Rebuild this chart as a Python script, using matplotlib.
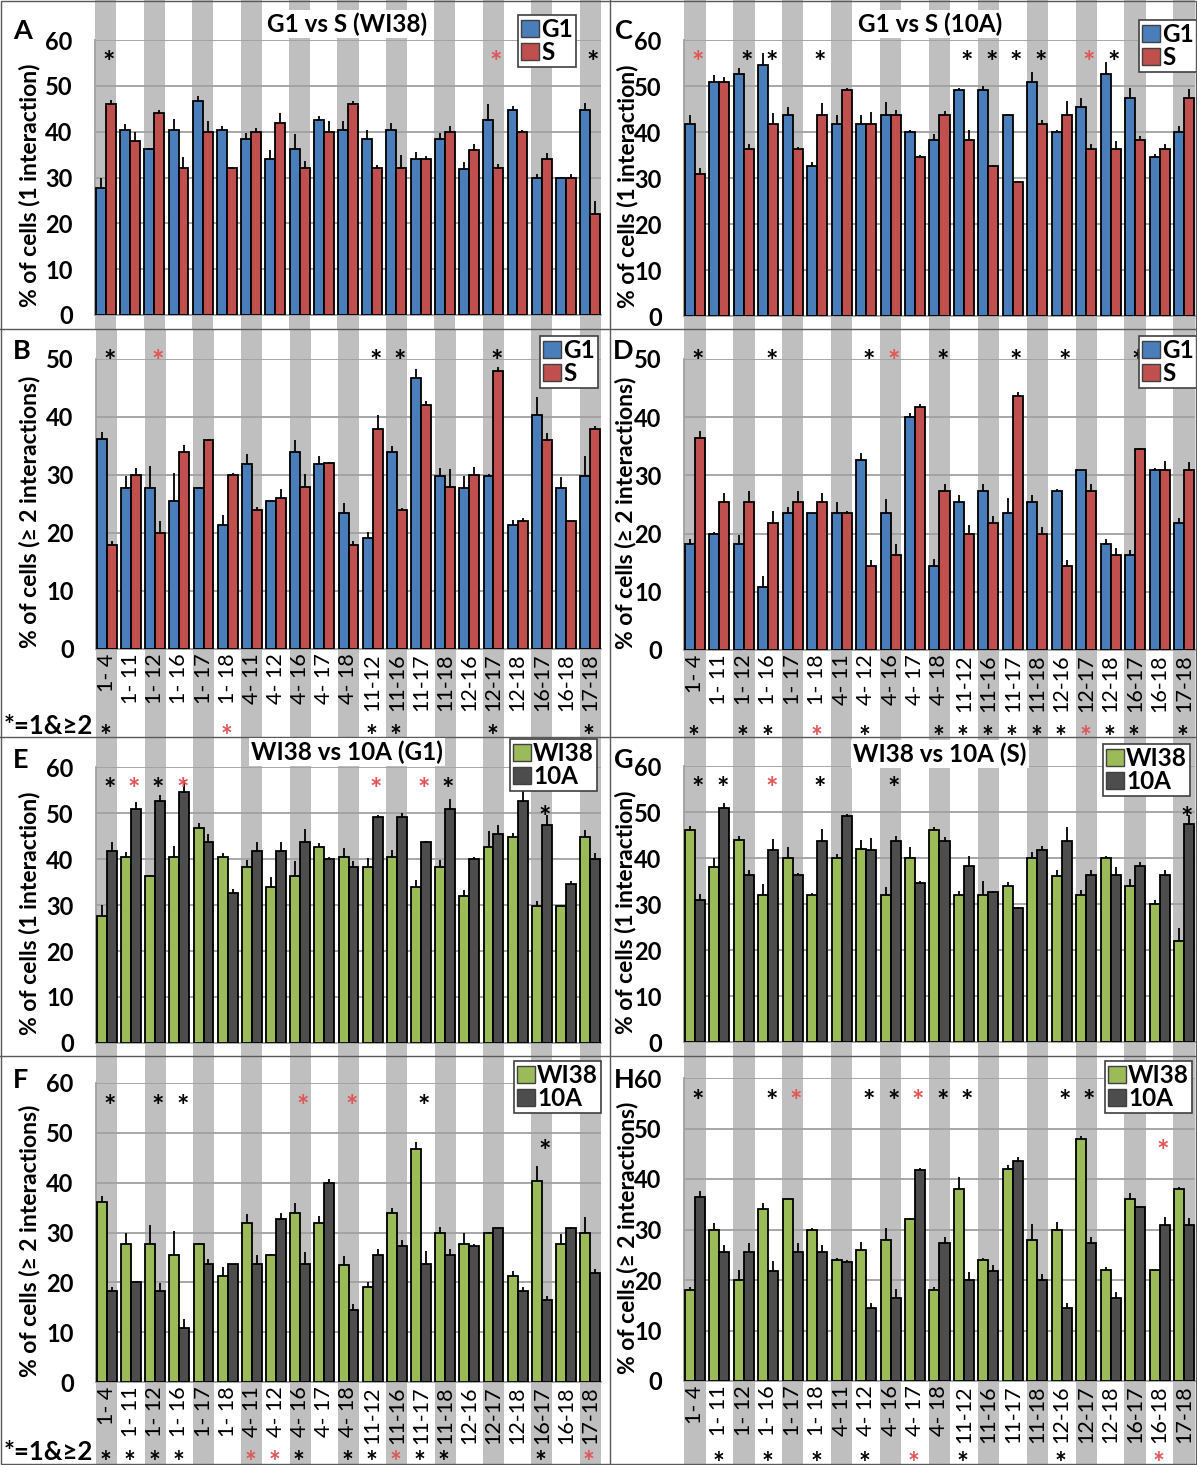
import matplotlib
matplotlib.use('Agg')
import matplotlib.pyplot as plt
from matplotlib.patches import Rectangle, Patch
from matplotlib.lines import Line2D
from matplotlib.transforms import blended_transform_factory, offset_copy
import numpy as np

FONT = ['Lato', 'DejaVu Sans']
plt.rcParams['font.family'] = FONT

W, H = 1197, 1465

cats = ['1- 4', '1- 11', '1- 12', '1- 16', '1- 17', '1- 18', '4- 11', '4- 12', '4- 16',
        '4- 17', '4- 18', '11-12', '11-16', '11-17', '11-18', '12-16', '12-17', '12-18',
        '16-17', '16-18', '17-18']

# % of cells with 1 interaction
wi38_g1_1 = [27.7, 40.4, 36.2, 40.4, 46.8, 40.4, 38.3, 34.0, 36.2, 42.6, 40.4, 38.3, 40.4, 34.0, 38.3, 31.9, 42.6, 44.7, 29.8, 29.8, 44.7]
wi38_g1_1_err = [2.2, 1.2, 0.3, 2.4, 1.0, 0.8, 1.5, 2.0, 3.4, 0.8, 2.0, 2.0, 1.5, 1.5, 1.5, 1.4, 3.5, 1.0, 1.0, 0.3, 1.5]
wi38_s_1 = [46, 38, 44, 32, 40, 32, 40, 42, 32, 40, 46, 32, 32, 34, 40, 36, 32, 40, 34, 30, 22]
wi38_s_1_err = [1.0, 2.0, 0.8, 2.4, 2.4, 0.4, 0.8, 2.0, 1.6, 2.4, 0.8, 0.8, 3.0, 0.8, 1.2, 1.4, 1.0, 0.4, 1.4, 0.8, 2.8]
ten_g1_1 = [41.8, 50.9, 52.7, 54.5, 43.6, 32.7, 41.8, 41.8, 43.6, 40.0, 38.2, 49.1, 49.1, 43.6, 50.9, 40.0, 45.5, 52.7, 47.3, 34.5, 40.0]
ten_g1_1_err = [2.0, 1.6, 1.3, 2.6, 1.8, 0.8, 1.8, 1.8, 3.0, 0.4, 1.4, 0.4, 0.8, 0.3, 2.2, 0.4, 2.0, 2.6, 2.2, 0.8, 1.2]
ten_s_1 = [30.9, 50.9, 36.4, 41.8, 36.4, 43.6, 49.1, 41.8, 43.6, 34.5, 43.6, 38.2, 32.7, 29.1, 41.8, 43.6, 36.4, 36.4, 38.2, 36.4, 47.3]
ten_s_1_err = [1.2, 1.0, 1.0, 2.4, 0.4, 2.6, 0.4, 2.6, 1.2, 0.6, 1.0, 2.2, 0.1, 0.3, 0.8, 3.2, 1.0, 1.6, 1.0, 1.0, 2.0]

# % of cells with >= 2 interactions
wi38_g1_2 = [36.2, 27.7, 27.7, 25.5, 27.7, 21.3, 31.9, 25.5, 34.0, 31.9, 23.4, 19.1, 34.0, 46.8, 29.8, 27.7, 29.8, 21.3, 40.4, 27.7, 29.8]
wi38_g1_2_err = [1.2, 2.2, 3.8, 4.8, 0.2, 1.8, 1.8, 0.2, 2.0, 1.4, 1.8, 1.0, 1.0, 1.4, 1.4, 2.2, 0.4, 1.0, 3.0, 2.0, 3.4]
wi38_s_2 = [18, 30, 20, 34, 36, 30, 24, 26, 28, 32, 18, 38, 24, 42, 28, 30, 48, 22, 36, 22, 38]
wi38_s_2_err = [0.6, 1.2, 2.0, 1.2, 0.2, 0.3, 0.4, 1.5, 2.2, 0.2, 0.6, 2.4, 0.3, 0.8, 3.0, 1.4, 0.6, 0.5, 1.2, 0.0, 0.4]
ten_g1_2 = [18.2, 20.0, 18.2, 10.9, 23.6, 23.6, 23.6, 32.7, 23.6, 40.0, 14.5, 25.5, 27.3, 23.6, 25.5, 27.3, 30.9, 18.2, 16.4, 30.9, 21.8]
ten_g1_2_err = [0.8, 0.3, 1.6, 1.8, 1.0, 0.0, 1.8, 1.2, 2.4, 0.8, 1.2, 1.2, 1.2, 2.6, 1.2, 0.4, 0.0, 0.8, 0.8, 0.3, 0.8]
ten_s_2 = [36.4, 25.5, 25.5, 21.8, 25.5, 25.5, 23.6, 14.5, 16.4, 41.8, 27.3, 20.0, 21.8, 43.6, 20.0, 14.5, 27.3, 16.4, 34.5, 30.9, 30.9]
ten_s_2_err = [1.2, 1.4, 1.8, 2.0, 1.8, 1.4, 0.3, 1.0, 1.8, 0.4, 1.2, 1.5, 1.2, 0.8, 1.2, 1.0, 1.2, 1.2, 0.2, 1.6, 1.4]

# significance stars: (category index, colour key)
stars_top = {
    'A': [(0, 'k'), (16, 'r'), (20, 'k')],
    'C': [(0, 'r'), (2, 'k'), (3, 'k'), (5, 'k'), (11, 'k'), (12, 'k'), (13, 'k'), (14, 'k'), (16, 'r'), (17, 'k')],
    'B': [(0, 'k'), (2, 'r'), (11, 'k'), (12, 'k'), (16, 'k')],
    'D': [(0, 'k'), (3, 'k'), (7, 'k'), (8, 'r'), (10, 'k'), (13, 'k'), (15, 'k'), (18, 'k')],
    'E': [(0, 'k'), (1, 'r'), (2, 'k'), (3, 'r'), (11, 'r'), (13, 'r'), (14, 'k'), (18, 'k')],
    'G': [(0, 'k'), (1, 'k'), (3, 'r'), (5, 'k'), (8, 'k'), (20, 'k')],
    'F': [(0, 'k'), (2, 'k'), (3, 'k'), (8, 'r'), (10, 'r'), (13, 'k'), (18, 'k')],
    'H': [(0, 'k'), (3, 'k'), (4, 'r'), (7, 'k'), (8, 'k'), (9, 'r'), (10, 'k'), (11, 'k'), (15, 'k'), (16, 'k'), (19, 'r')],
}
stars_bottom = {
    'B': [(0, 'k'), (5, 'r'), (11, 'k'), (12, 'k'), (16, 'k'), (20, 'k')],
    'D': [(0, 'k'), (2, 'k'), (3, 'k'), (5, 'r'), (7, 'k'), (10, 'k'), (11, 'k'), (12, 'k'), (13, 'k'),
          (14, 'k'), (15, 'k'), (16, 'r'), (17, 'k'), (18, 'k'), (20, 'k')],
    'F': [(0, 'k'), (1, 'k'), (2, 'k'), (3, 'k'), (6, 'r'), (7, 'r'), (8, 'k'), (10, 'k'), (11, 'k'),
          (12, 'r'), (13, 'k'), (14, 'k'), (18, 'k'), (20, 'r')],
    'H': [(1, 'k'), (3, 'k'), (5, 'k'), (7, 'k'), (9, 'r'), (11, 'k'), (15, 'k'), (19, 'r')],
}
# stars drawn lower, just above a bar
low_star_y = {('E', 18): 51.4, ('G', 20): 51.0, ('F', 18): 48.5, ('H', 19): 47.6}

BLUE, RED, GREEN, DARK = '#4A7EBB', '#C0504D', '#9BBB59', '#4D4D4D'
STAR_C = {'k': 'black', 'r': '#E05555'}

# letter, series, colours, names, title, ylabel, geometry(px): left, right, y0, ytop, topval, panel top, panel bottom
panels = [
    ('A', (wi38_g1_1, wi38_g1_1_err, wi38_s_1, wi38_s_1_err), (BLUE, RED), ('G1', 'S'), 'G1 vs S (WI38)',
     '% of cells (1 interaction)', (95, 601, 315, 40, 60, 0, 329)),
    ('C', (ten_g1_1, ten_g1_1_err, ten_s_1, ten_s_1_err), (BLUE, RED), ('G1', 'S'), 'G1 vs S (10A)',
     '% of cells (1 interaction)', (684, 1195, 316, 40, 60, 0, 329)),
    ('B', (wi38_g1_2, wi38_g1_2_err, wi38_s_2, wi38_s_2_err), (BLUE, RED), ('G1', 'S'), None,
     '% of cells (≥ 2 interactions)', (96, 601, 649, 359, 50, 330, 737)),
    ('D', (ten_g1_2, ten_g1_2_err, ten_s_2, ten_s_2_err), (BLUE, RED), ('G1', 'S'), None,
     '% of cells (≥ 2 interactions)', (684, 1195, 650, 359, 50, 330, 737)),
    ('E', (wi38_g1_1, wi38_g1_1_err, ten_g1_1, ten_g1_1_err), (GREEN, DARK), ('WI38', '10A'), 'WI38 vs 10A (G1)',
     '% of cells (1 interaction)', (96, 601, 1043, 767, 60, 738, 1056)),
    ('G', (wi38_s_1, wi38_s_1_err, ten_s_1, ten_s_1_err), (GREEN, DARK), ('WI38', '10A'), 'WI38 vs 10A (S)',
     '% of cells (1 interaction)', (684, 1195, 1042, 766, 60, 738, 1056)),
    ('F', (wi38_g1_2, wi38_g1_2_err, ten_g1_2, ten_g1_2_err), (GREEN, DARK), ('WI38', '10A'), None,
     '% of cells (≥ 2 interactions)', (96, 601, 1382, 1083, 60, 1057, 1465)),
    ('H', (wi38_s_2, wi38_s_2_err, ten_s_2, ten_s_2_err), (GREEN, DARK), ('WI38', '10A'), None,
     '% of cells (≥ 2 interactions)', (684, 1195, 1381, 1078, 60, 1057, 1465)),
]

# where to put titles, legends, letters, ylabels (px)
title_pos = {'A': (347, 24), 'C': (930, 24), 'E': (347, 752), 'G': (940, 754)}
legend_box = {'A': (576, 15), 'C': (1197, 20), 'B': (598, 336), 'D': (1197, 336),
              'E': (597, 739), 'G': (1190, 744), 'F': (601, 1061), 'H': (1192, 1061)}
letter_pos = {'A': (13, 31), 'C': (615, 31), 'B': (13, 351), 'D': (613, 351),
              'E': (13, 760), 'G': (614, 760), 'F': (13, 1080), 'H': (614, 1080)}
ylab_x = {'A': 30, 'B': 30, 'E': 30, 'F': 30, 'C': 627, 'D': 625, 'G': 625, 'H': 627}
bottom_star_y = {'B': 726, 'D': 727, 'F': 1452, 'H': 1453}

STAR_FS = 21
# asterisk glyph sits high above the baseline: shift baseline down to centre it
STAR_DROP = STAR_FS * 100 / 72 * 0.66

fig = plt.figure(figsize=(W / 100, H / 100), dpi=100)
fig.patch.set_facecolor('white')

x = np.arange(len(cats))
bw = 0.41

for letter, (a, ae, b, be), cols, names, title, ylab, geo in panels:
    left, right, y0, ytop, topval, ptop, pbot = geo
    ax = fig.add_axes([left / W, 1 - y0 / H, (right - left) / W, (y0 - ytop) / H])
    ax.patch.set_visible(False)
    ax.set_xlim(-0.45, len(cats) - 0.55)
    ax.set_ylim(0, topval)

    # grey column stripes across the whole panel
    tr = blended_transform_factory(ax.transData, fig.transFigure)
    for i in range(0, len(cats), 2):
        ax.add_patch(Rectangle((i - 0.435, 1 - pbot / H), 0.87, (pbot - ptop) / H, transform=tr,
                               facecolor='#BFBFBF', edgecolor='none', zorder=0.1, clip_on=False))

    ax.set_yticks(np.arange(0, topval + 1, 10))
    ax.yaxis.grid(True, color='#A0A0A0', lw=1.3)
    ax.set_axisbelow(True)
    for s in ['top', 'right']:
        ax.spines[s].set_visible(False)
    ax.spines['left'].set_color('#A0A0A0')
    ax.spines['bottom'].set_color('#A0A0A0')
    ax.spines['left'].set_linewidth(1.3)
    ax.spines['bottom'].set_linewidth(1.3)
    ax.tick_params(axis='both', length=0)
    ax.tick_params(axis='y', pad=16)
    for t in ax.get_yticklabels():
        t.set_fontweight('bold')
        t.set_fontsize(17)

    ax.bar(x - bw / 2, a, bw, color=cols[0], edgecolor='black', lw=1.3, zorder=3)
    ax.bar(x + bw / 2, b, bw, color=cols[1], edgecolor='black', lw=1.3, zorder=3)
    ax.errorbar(x - bw / 2, a, yerr=[np.zeros(len(a)), ae], fmt='none', ecolor='black', elinewidth=1.3,
                capsize=0, zorder=4)
    ax.errorbar(x + bw / 2, b, yerr=[np.zeros(len(b)), be], fmt='none', ecolor='black', elinewidth=1.3,
                capsize=0, zorder=4)

    if letter in ('B', 'D', 'F', 'H'):
        ax.set_xticks(x)
        ax.set_xticklabels(cats, rotation=90, fontsize=15.5, va='top', ha='center')
        ax.tick_params(axis='x', pad=3)
    else:
        ax.set_xticks([])

    star_tr = offset_copy(ax.transData, fig=fig, y=-STAR_DROP, units='dots')
    star_y0 = 51.5 if topval == 50 else 57.4
    for i, c in stars_top[letter]:
        yy = low_star_y.get((letter, i), star_y0)
        ax.text(i + 0.12, yy, '*', transform=star_tr, ha='center', va='baseline', fontsize=STAR_FS,
                fontweight='bold', color=STAR_C[c], clip_on=False, zorder=6)
    if letter in stars_bottom:
        btr = offset_copy(tr, fig=fig, y=-STAR_DROP, units='dots')
        for i, c in stars_bottom[letter]:
            ax.text(i - 0.05, 1 - bottom_star_y[letter] / H, '*', transform=btr, ha='center', va='baseline',
                    fontsize=STAR_FS - 1, fontweight='bold', color=STAR_C[c], zorder=6)

    if title:
        tx, ty = title_pos[letter]
        fig.text(tx / W, 1 - ty / H, title, ha='center', va='center', fontsize=17.5, fontweight='bold',
                 bbox=dict(facecolor='white', edgecolor='none', pad=1.5), zorder=5)

    handles = [Patch(facecolor=cols[0], edgecolor='#404040', lw=1), Patch(facecolor=cols[1], edgecolor='#404040', lw=1)]
    lx, ly = legend_box[letter]
    leg = ax.legend(handles, names, loc='upper right', bbox_to_anchor=(lx / W, 1 - ly / H),
                    bbox_transform=fig.transFigure, frameon=True, fancybox=False, framealpha=1,
                    edgecolor='#404040', prop={'weight': 'bold', 'size': 17.5}, handlelength=0.75,
                    handleheight=0.75, handletextpad=0.1, borderpad=0.12, labelspacing=0.0,
                    borderaxespad=0)
    leg.get_frame().set_linewidth(1.2)
    leg.set_zorder(7)

    lx, ly = letter_pos[letter]
    fig.text(lx / W, 1 - ly / H, letter, ha='left', va='center', fontsize=19.5, fontweight='bold')
    fig.text(ylab_x[letter] / W, 1 - ((ytop + y0) / 2 + 8) / H, ylab, rotation=90, ha='center', va='center',
             fontsize=16.5, fontweight='bold')

fig.text(4 / W, 1 - 726 / H, '*=1&≥2', ha='left', va='center', fontsize=18.5, fontweight='bold')
fig.text(4 / W, 1 - 1452 / H, '*=1&≥2', ha='left', va='center', fontsize=18.5, fontweight='bold')

# panel separators
for yy in (329, 737, 1056):
    fig.add_artist(Line2D([0, 1], [1 - yy / H, 1 - yy / H], transform=fig.transFigure, color='#595959', lw=1))
fig.add_artist(Line2D([610 / W, 610 / W], [0, 1], transform=fig.transFigure, color='#595959', lw=1))
fig.add_artist(Rectangle((0.0005, 0.0005), 0.999, 0.999, transform=fig.transFigure, fill=False,
                         edgecolor='#595959', lw=1))

fig.savefig('out.png', dpi=100, facecolor='white')
